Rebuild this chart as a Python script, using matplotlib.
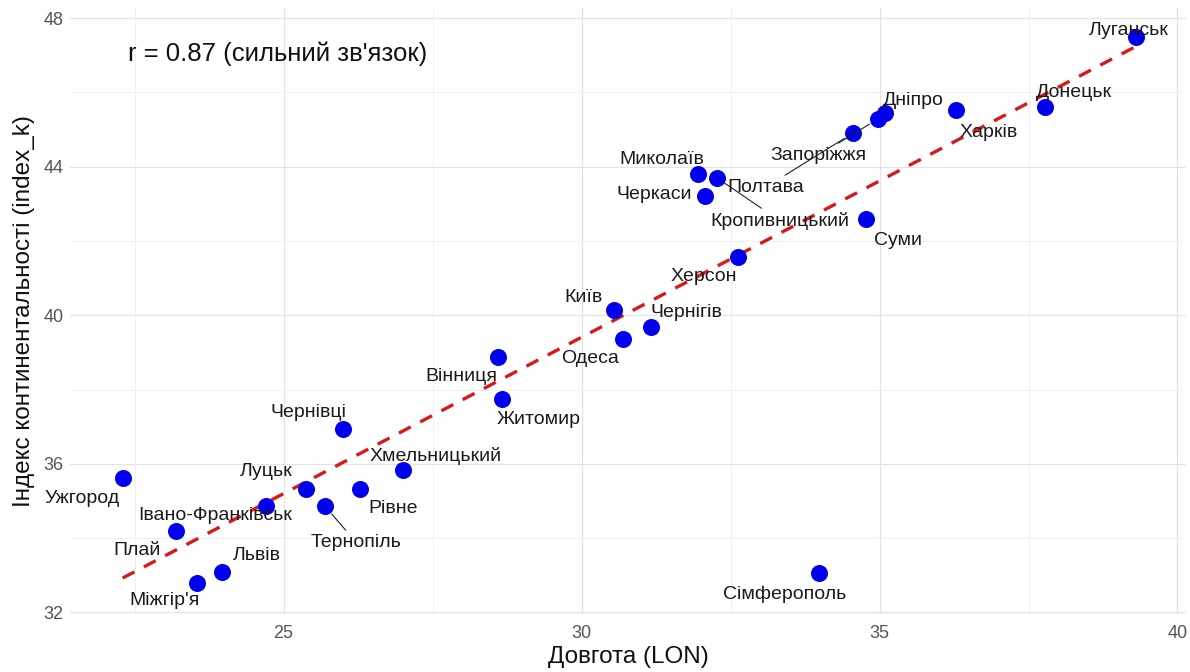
import numpy as np
import matplotlib
matplotlib.use("Agg")
import matplotlib.pyplot as plt
from matplotlib.ticker import MultipleLocator

plt.rcParams['font.family'] = ['Liberation Sans', 'DejaVu Sans']

# data
cities = ['Луганськ', 'Донецьк', 'Харків', 'Дніпро', 'Запоріжжя', 'Полтава',
          'Миколаїв', 'Кропивницький', 'Черкаси', 'Суми', 'Херсон', 'Київ',
          'Чернігів', 'Одеса', 'Вінниця', 'Житомир', 'Чернівці', 'Хмельницький',
          'Рівне', 'Луцьк', 'Тернопіль', 'Івано-Франківськ', 'Ужгород', 'Плай',
          'Львів', "Міжгір'я", 'Сімферополь']
lon = [39.3, 37.77, 36.28, 35.1, 34.97, 34.55,
       31.95, 32.27, 32.08, 34.78, 32.62, 30.55,
       31.16, 30.69, 28.6, 28.67, 25.99, 27.0,
       26.28, 25.37, 25.7, 24.71, 22.3, 23.2,
       23.96, 23.54, 33.98]
index_k = [47.5, 45.6, 45.52, 45.44, 45.28, 44.9,
           43.8, 43.7, 43.2, 42.6, 41.57, 40.13,
           39.67, 39.37, 38.88, 37.75, 36.93, 35.82,
           35.33, 35.33, 34.85, 34.87, 35.63, 34.2,
           33.08, 32.79, 33.06]

# label offsets in pixels (dx, dy), and which labels get a leader segment
offsets = {
    'Луганськ': (-7, 6), 'Донецьк': (29, 15), 'Харків': (33, -22),
    'Дніпро': (28, 13), 'Запоріжжя': (-59, -36), 'Полтава': (-87, -54),
    'Миколаїв': (-36, 15), 'Кропивницький': (63, -43), 'Черкаси': (-51, 2),
    'Суми': (32, -22), 'Херсон': (-34, -20), 'Київ': (-31, 13),
    'Чернігів': (36, 15), 'Одеса': (-33, -20), 'Вінниця': (-37, -20),
    'Житомир': (36, -21), 'Чернівці': (-34, 17), 'Хмельницький': (33, 14),
    'Рівне': (33, -20), 'Луцьк': (-39, 17), 'Тернопіль': (31, -36),
    'Івано-Франківськ': (-51, -10), 'Ужгород': (-41, -21), 'Плай': (-39, -20),
    'Львів': (35, 17), "Міжгір'я": (-32, -17), 'Сімферополь': (-34, -21),
}
segments = ['Запоріжжя', 'Полтава', 'Кропивницький', 'Тернопіль']

fig = plt.figure(figsize=(11.9, 6.72), dpi=100)
ax = fig.add_axes([0.059, 0.086, 0.938, 0.902])

x = np.array(lon)
y = np.array(index_k)
k, b = np.polyfit(x, y, 1)
xs = np.array([x.min(), x.max()])
ax.plot(xs, k * xs + b, color='#D7191C', lw=2.4, dashes=(4, 3.2), zorder=2)

ax.scatter(x, y, s=150, color='#0000EE', zorder=3, linewidths=0)

px = 72 / 100  # pixels -> points
for name, xi, yi in zip(cities, lon, index_k):
    dx, dy = offsets[name]
    arrow = None
    if name in segments:
        arrow = dict(arrowstyle='-', color='#222222', lw=0.8, shrinkA=1, shrinkB=7)
    ax.annotate(name, (xi, yi), xytext=(dx * px, dy * px), textcoords='offset points',
                ha='center', va='center', fontsize=14, color='#1a1a1a',
                arrowprops=arrow, zorder=4)

ax.text(24.9, 47.05, "r = 0.87 (сильний зв'язок)", ha='center', va='center',
        fontsize=18.5, color='#111111')

ax.set_xlim(21.42, 40.15)
ax.set_ylim(31.95, 48.27)
ax.xaxis.set_major_locator(MultipleLocator(5))
ax.xaxis.set_minor_locator(MultipleLocator(2.5))
ax.yaxis.set_major_locator(MultipleLocator(4))
ax.yaxis.set_minor_locator(MultipleLocator(2))
ax.grid(which='major', color='#E3E3E3', lw=0.9)
ax.grid(which='minor', color='#F0F0F0', lw=0.7)
ax.set_axisbelow(True)
for s in ax.spines.values():
    s.set_visible(False)
ax.tick_params(which='both', length=0, labelsize=13, labelcolor='#555555', pad=5)
ax.tick_params(axis='x', pad=8)

ax.set_xlabel('Довгота (LON)', fontsize=17.5, color='#111111', labelpad=3)
ax.set_ylabel('Індекс континентальності (index_k)', fontsize=17.5, color='#111111', labelpad=6)

fig.savefig('out.png', dpi=100)
